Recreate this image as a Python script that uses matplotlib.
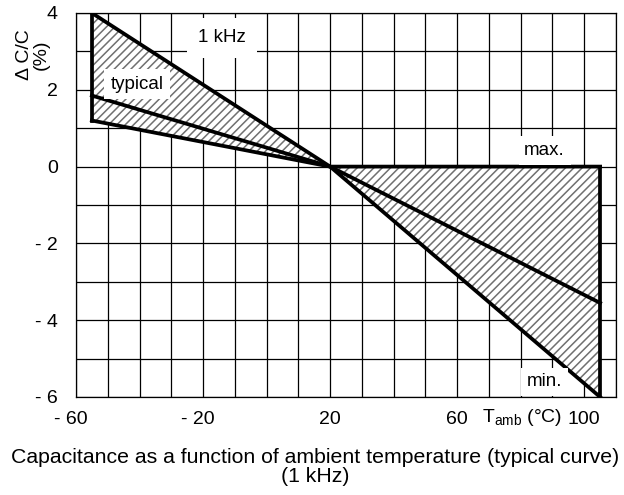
import matplotlib
matplotlib.use("Agg")
import matplotlib.pyplot as plt
import matplotlib.transforms as mtransforms
import numpy as np

plt.rcParams.update({
    "font.family": ["Liberation Sans", "DejaVu Sans"],
    "font.size": 14,
    "hatch.color": "#707070",
    "hatch.linewidth": 1.1,
})

# temperature points (deg C) and capacitance change (%)
temp = [-55, 20, 105]
dc_max = [4.0, 0.0, 0.0]
dc_typ = [1.85, 0.0, -3.55]
dc_min = [1.2, 0.0, -6.0]

xticks = [-60, -20, 20, 60, 100]
xtick_labels = ["- 60", "- 20", "20", "60", "100"]
yticks = [4, 2, 0, -2, -4, -6]
ytick_labels = ["4", "2", "0", "- 2", "- 4", "- 6"]

fig = plt.figure(figsize=(6.24, 4.95), dpi=100)
ax = fig.add_axes([76 / 624, 1 - 397 / 495, 540 / 624, 384 / 495])

ax.set_xlim(-60, 110)
ax.set_ylim(-6, 4)

ax.set_xticks(xticks)
ax.set_xticklabels(xtick_labels)
ax.set_xticks(np.arange(-60, 111, 10), minor=True)
ax.set_yticks(yticks)
ax.set_yticklabels(ytick_labels)
ax.set_yticks(np.arange(-6, 4.1, 1), minor=True)
ax.tick_params(which="both", length=0)
ax.tick_params(axis="x", pad=10)
ax.tick_params(axis="y", pad=13)
ax.grid(which="both", color="black", linewidth=0.9)
ax.set_axisbelow(True)
for s in ax.spines.values():
    s.set_linewidth(0.9)

# shift negative labels so the digits sit on the grid line
for lab in ax.get_xticklabels():
    if lab.get_text().startswith("-"):
        lab.set_transform(lab.get_transform() +
                          mtransforms.ScaledTranslation(-5 / 100, 0, fig.dpi_scale_trans))

ax.fill_between(temp, dc_min, dc_max, facecolor="white", hatch="////",
                edgecolor="#707070", linewidth=0, zorder=2)

lw = 2.7
ax.plot(temp, dc_max, color="black", lw=lw, zorder=3, solid_capstyle="projecting")
ax.plot(temp, dc_typ, color="black", lw=lw, zorder=3)
ax.plot(temp, dc_min, color="black", lw=lw, zorder=3)
ax.plot([temp[0], temp[0]], [dc_min[0], dc_max[0]], color="black", lw=lw, zorder=3,
        solid_capstyle="projecting")
ax.plot([temp[-1], temp[-1]], [dc_min[-1], dc_max[-1]], color="black", lw=lw, zorder=3,
        solid_capstyle="projecting")

box = dict(facecolor="white", edgecolor="none", pad=4)
ax.text(-14, 3.35, "1 kHz", ha="center", va="center", fontsize=13.5,
        bbox=dict(facecolor="white", edgecolor="none", pad=8), zorder=4)
ax.text(-40.8, 2.15, "typical", ha="center", va="center", fontsize=13.5,
        bbox=dict(facecolor="white", edgecolor="none", pad=5), zorder=4)
ax.text(87.5, 0.42, "max.", ha="center", va="center", fontsize=13.5, bbox=box, zorder=4)
ax.text(87.5, -5.6, "min.", ha="center", va="center", fontsize=13.5, bbox=box, zorder=4)

fig.text(522 / 624, 1 - 418 / 495, r"T$_{\mathregular{amb}}$ (°C)", ha="center", va="center")
fig.text(33 / 624, 1 - 55 / 495, "Δ C/C\n(%)", rotation=90, ha="center", va="center",
         multialignment="center", linespacing=0.95)

fig.text(0.505, 1 - 467 / 495, "Capacitance as a function of ambient temperature (typical curve)\n(1 kHz)",
         ha="center", va="center", multialignment="center", fontsize=15.3, linespacing=1.05)

fig.savefig("out.png", dpi=100)
